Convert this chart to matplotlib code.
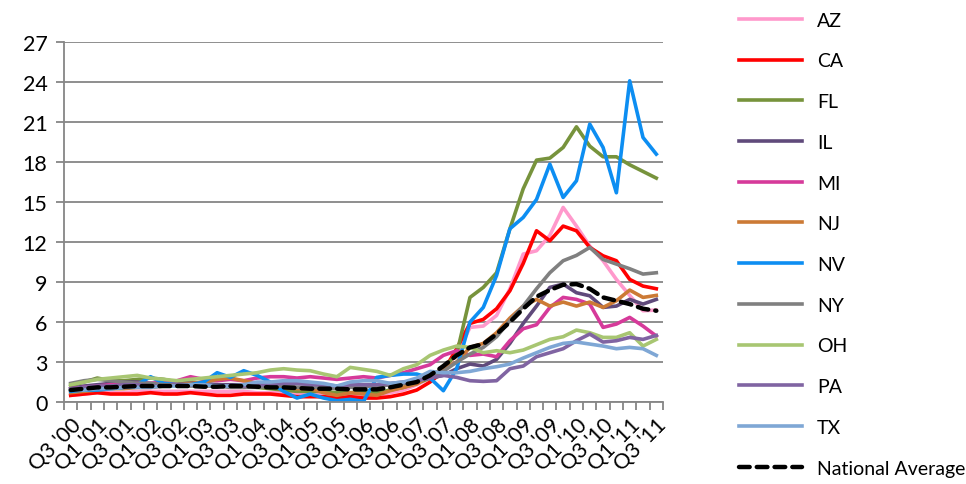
import numpy as np
import matplotlib.pyplot as plt

plt.rcParams['font.family'] = ['Lato', 'DejaVu Sans']

# quarters Q3 '00 .. Q3 '11
quarters = []
for yr in range(2000, 2012):
    for q in range(1, 5):
        if (yr == 2000 and q < 3) or (yr == 2011 and q > 3):
            continue
        quarters.append("Q%d '%02d" % (q, yr % 100))

states = ['AZ', 'CA', 'FL', 'IL', 'MI', 'NJ', 'NV', 'NY', 'OH', 'PA', 'TX']

az = [0.5, 0.6, 0.7, 0.7, 0.7, 0.8, 0.8, 0.8, 0.8, 0.8, 0.8, 0.8, 0.8, 0.8, 0.7,
      0.7, 0.7, 0.6, 0.6, 0.5, 0.5, 0.5, 0.5, 0.5, 0.7, 0.9, 1.3, 1.8, 2.5, 3.5,
      5.6, 5.7, 6.5, 8.5, 11.1, 11.35, 12.5, 14.6, 13.2, 11.7, 10.6, 9.2, 8.0, 6.85, 6.9]
ca = [0.5, 0.6, 0.7, 0.6, 0.6, 0.6, 0.7, 0.6, 0.6, 0.7, 0.6, 0.5, 0.5, 0.6, 0.6,
      0.6, 0.5, 0.4, 0.4, 0.4, 0.3, 0.4, 0.3, 0.3, 0.4, 0.6, 0.9, 1.5, 2.3, 4.0,
      5.9, 6.2, 7.0, 8.35, 10.4, 12.85, 12.1, 13.2, 12.85, 11.6, 10.97, 10.6, 9.2, 8.7, 8.5]
fl = [1.2, 1.5, 1.8, 1.6, 1.6, 1.7, 1.8, 1.7, 1.5, 1.4, 1.3, 1.3, 1.2, 1.2, 1.1,
      1.0, 0.9, 0.8, 0.8, 0.8, 0.7, 0.7, 0.8, 0.7, 0.9, 1.1, 1.4, 1.8, 2.5, 3.6,
      7.85, 8.6, 9.7, 13.0, 16.0, 18.15, 18.3, 19.1, 20.65, 19.2, 18.4, 18.4, 17.8, 17.3, 16.8]
il = [1.0, 1.2, 1.3, 1.4, 1.5, 1.5, 1.4, 1.4, 1.5, 1.5, 1.4, 1.3, 1.3, 1.3, 1.2,
      1.2, 1.2, 1.1, 1.1, 1.1, 1.1, 1.2, 1.2, 1.2, 1.3, 1.4, 1.6, 1.8, 2.0, 2.5,
      2.85, 2.7, 3.2, 4.4, 5.9, 7.2, 8.6, 8.85, 8.2, 7.97, 7.1, 7.2, 7.7, 7.35, 7.7]
mi = [1.0, 1.1, 1.2, 1.3, 1.3, 1.4, 1.4, 1.5, 1.6, 1.9, 1.7, 1.6, 1.7, 1.6, 1.8,
      1.9, 1.9, 1.8, 1.9, 1.8, 1.7, 1.8, 1.9, 1.8, 2.0, 2.2, 2.5, 2.8, 3.5, 3.85,
      3.5, 3.6, 3.4, 4.6, 5.5, 5.8, 7.1, 7.85, 7.7, 7.35, 5.6, 5.85, 6.35, 5.7, 4.95]
nj = [0.7, 0.8, 0.9, 1.0, 1.0, 1.1, 1.1, 1.2, 1.3, 1.4, 1.5, 1.7, 1.8, 1.6, 1.4,
      1.2, 1.1, 1.0, 1.0, 0.7, 0.5, 0.7, 0.6, 0.5, 0.85, 1.1, 1.35, 2.0, 2.5, 3.0,
      4.1, 4.4, 5.2, 6.3, 7.2, 7.7, 7.2, 7.5, 7.2, 7.5, 7.1, 7.6, 8.4, 7.85, 8.0]
nv = [0.8, 0.9, 0.9, 1.0, 1.1, 1.3, 1.9, 1.4, 1.3, 1.3, 1.5, 2.2, 1.85, 2.35, 2.0,
      1.5, 0.8, 0.3, 0.6, 0.3, 0.1, 0.2, 0.05, 1.85, 2.0, 2.1, 2.1, 1.8, 0.85, 2.5,
      6.0, 7.1, 9.5, 13.0, 13.85, 15.2, 17.85, 15.35, 16.6, 20.85, 19.1, 15.7, 24.1, 19.85, 18.6]
ny = [1.4, 1.6, 1.7, 1.6, 1.5, 1.4, 1.4, 1.3, 1.3, 1.2, 1.2, 1.2, 1.1, 1.1, 1.1,
      1.2, 1.2, 1.1, 1.1, 1.1, 1.0, 1.1, 1.2, 1.2, 1.3, 1.4, 1.6, 1.9, 2.3, 3.0,
      3.6, 4.1, 4.9, 6.1, 7.2, 8.5, 9.7, 10.6, 11.0, 11.6, 10.7, 10.35, 10.0, 9.6, 9.7]
oh = [1.3, 1.5, 1.7, 1.8, 1.9, 2.0, 1.8, 1.7, 1.6, 1.7, 1.8, 1.9, 2.0, 2.1, 2.2,
      2.4, 2.5, 2.4, 2.35, 2.1, 1.9, 2.6, 2.45, 2.3, 2.0, 2.5, 2.8, 3.5, 3.9, 4.2,
      4.1, 3.7, 3.85, 3.7, 3.9, 4.3, 4.7, 4.9, 5.4, 5.2, 4.85, 4.85, 5.2, 4.2, 4.7]
pa = [1.0, 1.1, 1.2, 1.2, 1.3, 1.3, 1.2, 1.2, 1.3, 1.3, 1.3, 1.2, 1.2, 1.2, 1.3,
      1.3, 1.4, 1.4, 1.3, 1.3, 1.2, 1.3, 1.3, 1.3, 1.4, 1.5, 1.6, 1.8, 2.0, 1.85,
      1.6, 1.55, 1.6, 2.5, 2.7, 3.4, 3.7, 4.0, 4.6, 5.1, 4.5, 4.6, 4.85, 4.7, 5.0]
tx = [0.9, 0.9, 1.0, 1.0, 1.1, 1.1, 1.1, 1.2, 1.2, 1.3, 1.3, 1.2, 1.2, 1.3, 1.5,
      1.5, 1.6, 1.6, 1.5, 1.4, 1.2, 1.5, 1.6, 1.6, 1.4, 1.5, 1.8, 2.3, 2.2, 2.2,
      2.3, 2.5, 2.65, 2.85, 3.3, 3.7, 4.1, 4.4, 4.5, 4.35, 4.2, 4.0, 4.1, 4.0, 3.5]
national = [0.9, 1.0, 1.1, 1.1, 1.15, 1.2, 1.2, 1.2, 1.2, 1.2, 1.15, 1.15, 1.2, 1.2, 1.15,
            1.1, 1.1, 1.05, 1.0, 1.0, 1.0, 0.95, 0.95, 0.95, 1.1, 1.3, 1.5, 2.0, 2.7, 3.5,
            4.1, 4.35, 5.1, 6.0, 7.0, 7.9, 8.4, 8.8, 8.85, 8.5, 7.85, 7.6, 7.35, 7.0, 6.85]

series = [az, ca, fl, il, mi, nj, nv, ny, oh, pa, tx]
colors = ['#FF99CC', '#FF0000', '#77933C', '#604A7B', '#D63A9A', '#CC7A35',
          '#0D8EF2', '#808080', '#A8C672', '#8064A2', '#7FA7D5']

fig = plt.figure(figsize=(9.66, 4.85), dpi=100)
ax = fig.add_axes([0.0663, 0.169, 0.62, 0.742])

x = np.arange(len(quarters))
for name, vals, c in zip(states, series, colors):
    ax.plot(x, vals, color=c, lw=2.6, label=name, solid_joinstyle='round')
ax.plot(x, national, color='black', lw=3.2, ls=(0, (2.4, 1.6)), dash_capstyle='round',
        label='National Average')

ax.set_xlim(-0.5, len(quarters) - 0.5)
ax.set_ylim(0, 27)
ax.set_yticks(np.arange(0, 28, 3))
ax.grid(axis='y', color='#868686', lw=1.3)
ax.set_axisbelow(True)

for s in ['top', 'right']:
    ax.spines[s].set_visible(False)
for s in ['left', 'bottom']:
    ax.spines[s].set_color('#868686')
    ax.spines[s].set_linewidth(1.3)

ax.set_xticks(np.arange(-0.5, len(quarters)), labels=[])
ax.set_xticks(x[::2], labels=quarters[::2], minor=True)
ax.tick_params(axis='x', which='major', length=6, color='#868686', width=1.3)
ax.tick_params(axis='x', which='minor', length=0, pad=9, labelsize=15.5)
for t in ax.get_xticklabels(minor=True):
    t.set_rotation(45)
    t.set_ha('right')
    t.set_rotation_mode('anchor')
ax.tick_params(axis='y', length=6, color='#868686', width=1.3, labelsize=15.5, pad=6)

ax.legend(loc='upper left', bbox_to_anchor=(0.754, 0.996), bbox_transform=fig.transFigure,
          frameon=False, fontsize=14, handlelength=3.25, labelspacing=1.22,
          handletextpad=0.75, borderaxespad=0.15)

fig.savefig('out.png', dpi=100)
